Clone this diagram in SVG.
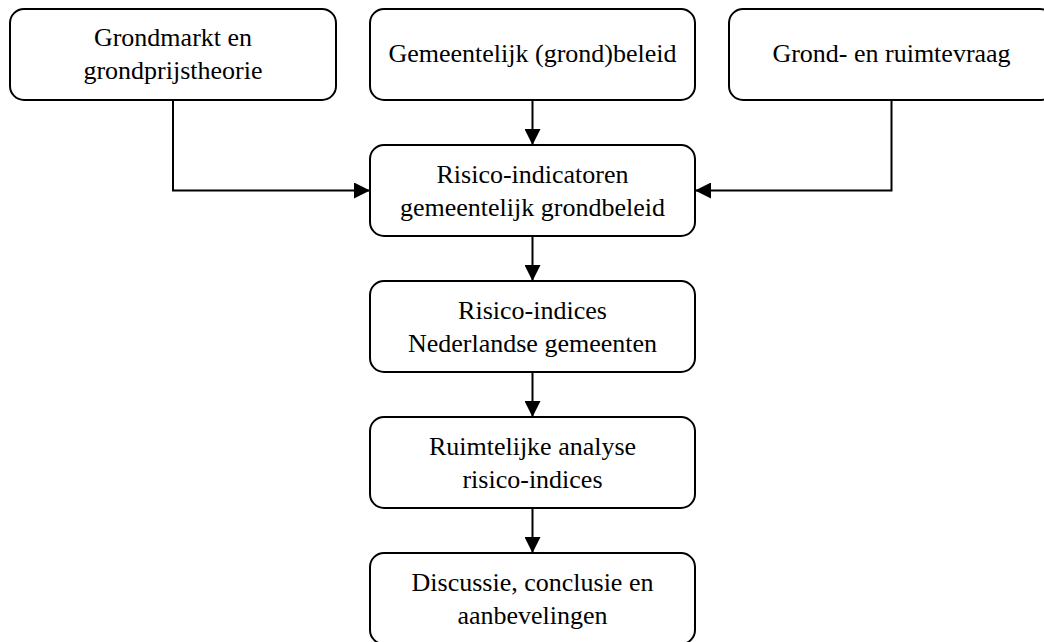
<svg xmlns="http://www.w3.org/2000/svg" width="1044" height="642" viewBox="0 0 1044 642">
<style>
.box{fill:#fff;stroke:#000;stroke-width:2}
.t{font-family:"Liberation Serif","Times New Roman",serif;font-size:26px;fill:#000;text-anchor:middle}
.c{fill:none;stroke:#000;stroke-width:2}
</style>
<defs>
<marker id="ah" markerWidth="16" markerHeight="16" viewBox="0 0 16 16" refX="16" refY="8" orient="auto" markerUnits="userSpaceOnUse">
<path d="M0,0 L16,8 L0,16 Z" fill="#000"/>
</marker>
</defs>
<rect width="1044" height="642" fill="#fff"/>
<g id="connectors">
<path class="c" d="M532.5,100 V145" marker-end="url(#ah)"/>
<path class="c" d="M173,100 V190.5 H370" marker-end="url(#ah)"/>
<path class="c" d="M891.5,100 V190.5 H695" marker-end="url(#ah)"/>
<path class="c" d="M532.5,236 V281" marker-end="url(#ah)"/>
<path class="c" d="M532.5,372 V417" marker-end="url(#ah)"/>
<path class="c" d="M532.5,508 V553" marker-end="url(#ah)"/>
</g>
<g id="n1">
<rect class="box" x="10" y="9" width="326" height="91" rx="14"/>
<text class="t" x="173" y="46">Grondmarkt en</text>
<text class="t" x="173" y="79">grondprijstheorie</text>
</g>
<g id="n2">
<rect class="box" x="370" y="9" width="325" height="91" rx="14"/>
<text class="t" x="532.5" y="62">Gemeentelijk (grond)beleid</text>
</g>
<g id="n3">
<rect class="box" x="729" y="9" width="325" height="91" rx="14"/>
<text class="t" x="891.5" y="62">Grond- en ruimtevraag</text>
</g>
<g id="n4">
<rect class="box" x="370" y="145" width="325" height="91" rx="14"/>
<text class="t" x="532.5" y="183">Risico-indicatoren</text>
<text class="t" x="532.5" y="216">gemeentelijk grondbeleid</text>
</g>
<g id="n5">
<rect class="box" x="370" y="281" width="325" height="91" rx="14"/>
<text class="t" x="532.5" y="319">Risico-indices</text>
<text class="t" x="532.5" y="352">Nederlandse gemeenten</text>
</g>
<g id="n6">
<rect class="box" x="370" y="417" width="325" height="91" rx="14"/>
<text class="t" x="532.5" y="455">Ruimtelijke analyse</text>
<text class="t" x="532.5" y="488">risico-indices</text>
</g>
<g id="n7">
<rect class="box" x="370" y="553" width="325" height="91" rx="14"/>
<text class="t" x="532.5" y="591">Discussie, conclusie en</text>
<text class="t" x="532.5" y="624">aanbevelingen</text>
</g>
</svg>
